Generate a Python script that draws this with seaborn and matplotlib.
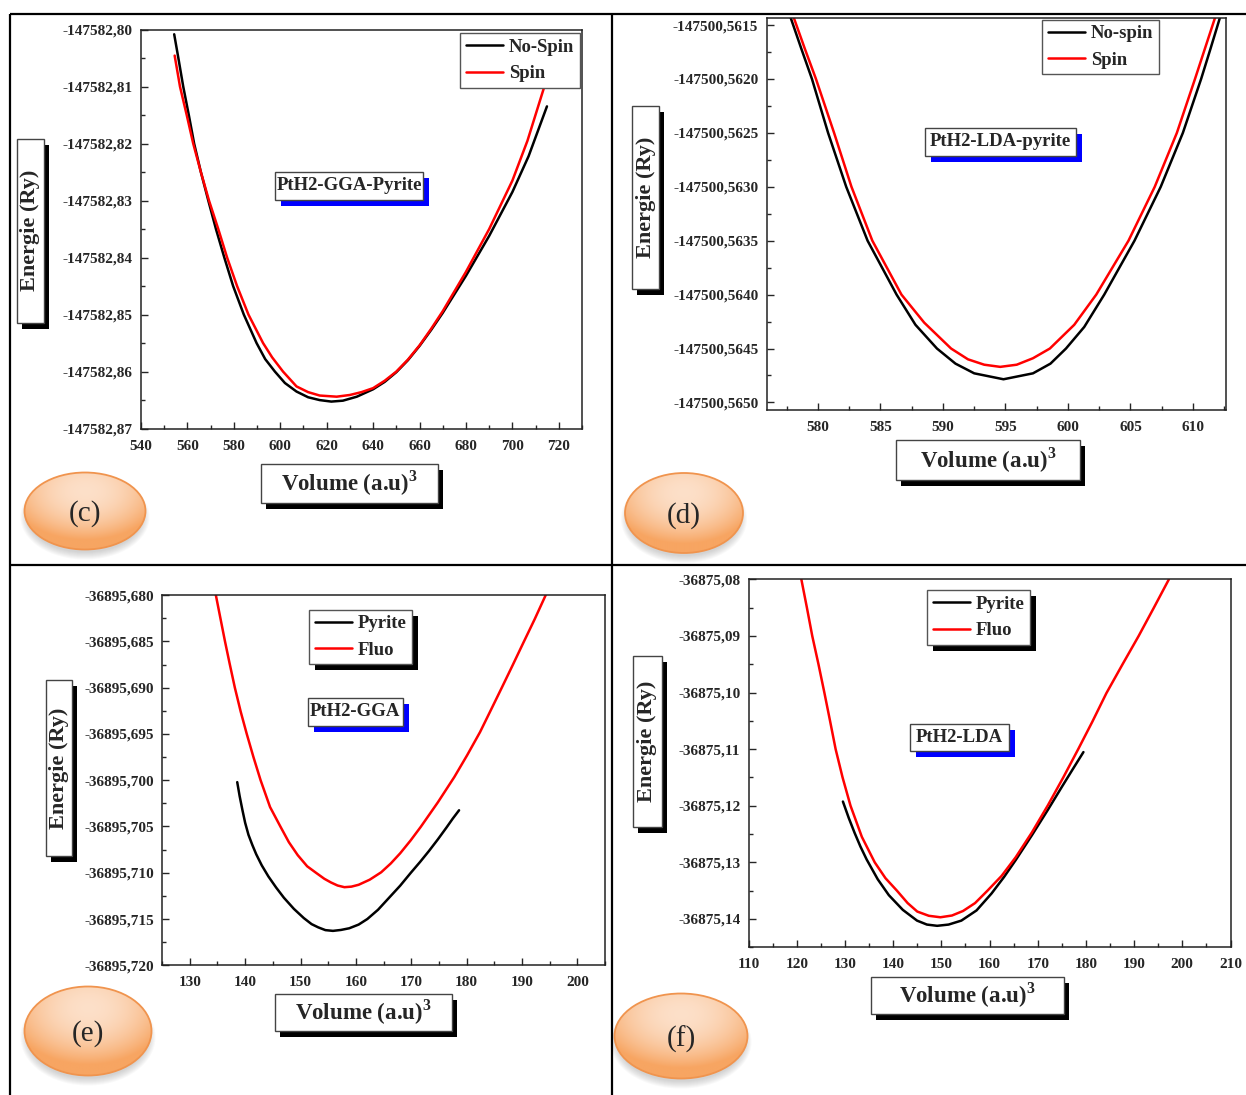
#E(V) curves of PtH2 - four panels (c) (d) (e) (f)
import numpy as np
import pandas as pd
import seaborn as sns
from matplotlib import pyplot as plt
from matplotlib import ticker
from matplotlib.lines import Line2D
from matplotlib.patches import Rectangle, Ellipse

#values (volume in (a.u)^3, energy in Ry)
#(c) GGA pyrite
c_nospin_V = [554.3, 556.1, 558.2, 560.7, 562.9, 565.8, 569.0, 572.3, 575.9, 579.7, 584.3, 589.8, 593.5, 597.7, 602.0,
              607.0, 612.0, 617.0, 622.0, 627.0, 633.0, 640.0, 645.0, 650.0, 655.0, 660.0, 665.0, 670.0, 680.0, 690.0,
              700.0, 707.0, 714.9]
c_nospin_E = [-147582.80082, -147582.805, -147582.81, -147582.8152, -147582.82, -147582.825, -147582.83, -147582.835,
              -147582.84, -147582.845, -147582.85, -147582.855, -147582.8578, -147582.86, -147582.8620, -147582.8635,
              -147582.8645, -147582.8650, -147582.86526, -147582.8651, -147582.8644, -147582.8631, -147582.8618,
              -147582.8601, -147582.8580, -147582.8555, -147582.8527, -147582.8497, -147582.8432, -147582.8362,
              -147582.8285, -147582.8222, -147582.81347]
c_spin_V = [554.5, 556.8, 559.7, 562.5, 565.8, 569.3, 573.3, 577.1, 581.4, 586.3, 592.6, 596.5, 601.2, 607.0, 612.0,
            617.0, 624.3, 630.0, 635.0, 640.0, 645.0, 650.0, 655.0, 660.0, 665.0, 670.0, 680.0, 690.0, 700.0, 706.5,
            712.7, 715.0]
c_spin_E = [-147582.80456, -147582.81, -147582.815, -147582.82, -147582.825, -147582.83, -147582.835, -147582.84,
            -147582.845, -147582.85, -147582.855, -147582.8575, -147582.86, -147582.8626, -147582.8636, -147582.8642,
            -147582.8644, -147582.8641, -147582.8636, -147582.8629, -147582.8616, -147582.8600, -147582.8579,
            -147582.8554, -147582.8525, -147582.8494, -147582.8425, -147582.8350, -147582.8265, -147582.8195,
            -147582.8114, -147582.8084]
c_xticks = [540, 560, 580, 600, 620, 640, 660, 680, 700, 720]
c_yticks = [-147582.80, -147582.81, -147582.82, -147582.83, -147582.84, -147582.85, -147582.86, -147582.87]

#(d) LDA pyrite
d_nospin_V = [577.81, 578.7, 579.52, 580.81, 582.26, 583.97, 586.29, 587.8, 589.52, 591.0, 592.5, 594.84, 597.2, 598.6,
              599.84, 601.3, 602.90, 605.32, 607.42, 609.19, 610.65, 611.4, 612.16]
d_nospin_E = [-147500.56143, -147500.56173, -147500.5620, -147500.5625, -147500.5630, -147500.5635, -147500.5640,
              -147500.56428, -147500.5645, -147500.56464, -147500.56473, -147500.564785, -147500.56473, -147500.56464,
              -147500.5645, -147500.56430, -147500.5640, -147500.5635, -147500.5630, -147500.5625, -147500.5620,
              -147500.56172, -147500.56143]
d_spin_V = [578.06, 578.95, 579.84, 581.29, 582.68, 584.35, 586.68, 588.5, 590.65, 592.0, 593.3, 594.58, 595.9, 597.2,
            598.55, 600.5, 602.26, 604.84, 606.94, 608.71, 610.16, 610.95, 611.77]
d_spin_E = [-147500.56143, -147500.56172, -147500.5620, -147500.5625, -147500.5630, -147500.5635, -147500.5640,
            -147500.56426, -147500.5645, -147500.56460, -147500.56465, -147500.56467, -147500.56465, -147500.56459,
            -147500.5645, -147500.56428, -147500.5640, -147500.5635, -147500.5630, -147500.5625, -147500.5620,
            -147500.56172, -147500.56143]
d_xticks = [580, 585, 590, 595, 600, 605, 610]
d_yticks = [-147500.5615, -147500.5620, -147500.5625, -147500.5630, -147500.5635, -147500.5640, -147500.5645, -147500.5650]

#(e) GGA pyrite / fluorite
e_pyr_V = [138.57, 139.0, 139.5, 140.0, 140.6, 141.3, 142.0, 143.0, 144.2, 145.6, 147.0, 148.8, 150.6, 152.0, 153.2,
           154.5, 155.86, 157.3, 158.8, 160.5, 162.07, 164.0, 166.0, 168.0, 169.93, 171.6, 173.2, 174.8, 176.36, 177.5,
           178.64]
e_pyr_E = [-36895.70021, -36895.7017, -36895.7032, -36895.7046, -36895.7059, -36895.7070, -36895.7080, -36895.7092,
           -36895.7104, -36895.7116, -36895.7127, -36895.7139, -36895.7149, -36895.71555, -36895.7159, -36895.7162,
           -36895.71628, -36895.71618, -36895.7160, -36895.7156, -36895.715, -36895.7140, -36895.7127, -36895.7114,
           -36895.710, -36895.70883, -36895.70765, -36895.7064, -36895.70512, -36895.70415, -36895.70325]
e_flu_V = [134.71, 135.5, 136.36, 137.2, 138.14, 139.2, 140.29, 141.5, 142.79, 144.5, 146.36, 147.9, 149.5, 151.2, 152.79,
           154.3, 155.5, 156.7, 157.93, 159.2, 160.5, 162.5, 164.57, 166.3, 168.0, 169.9, 171.71, 174.8, 177.79, 180.1,
           182.43, 184.4, 186.36, 188.3, 190.29, 192.3, 194.29]
e_flu_E = [-36895.680, -36895.6824, -36895.685, -36895.6874, -36895.690, -36895.6926, -36895.695, -36895.6975,
           -36895.700, -36895.7029, -36895.705, -36895.7067, -36895.7081, -36895.7093, -36895.7100, -36895.71065,
           -36895.71105, -36895.71138, -36895.71156, -36895.71150, -36895.71130, -36895.71075, -36895.70995,
           -36895.7090, -36895.7079, -36895.7065, -36895.70505, -36895.7024, -36895.69965, -36895.6973, -36895.6948,
           -36895.6924, -36895.6900, -36895.6876, -36895.6851, -36895.6826, -36895.680]
e_xticks = [130, 140, 150, 160, 170, 180, 190, 200]
e_yticks = [-36895.680, -36895.685, -36895.690, -36895.695, -36895.700, -36895.705, -36895.710, -36895.715, -36895.720]

#(f) LDA pyrite / fluorite
f_pyr_V = [129.57, 130.8, 132.0, 133.2, 134.50, 136.8, 139.1, 142.0, 144.95, 147.0, 149.13, 151.5, 154.15, 157.3,
           160.42, 163.0, 165.43, 168.8, 172.12, 175.05, 177.3, 179.48]
f_pyr_E = [-36875.11926, -36875.1222, -36875.1248, -36875.1272, -36875.1295, -36875.1330, -36875.1358, -36875.1384,
           -36875.1403, -36875.1410, -36875.14122, -36875.1410, -36875.1403, -36875.1385, -36875.1355, -36875.1326,
           -36875.1296, -36875.1252, -36875.1207, -36875.1166, -36875.1135, -36875.11052]
f_flu_V = [120.95, 122.1, 123.21, 124.5, 125.72, 126.9, 128.06, 129.5, 131.15, 133.5, 136.17, 138.4, 140.77, 143.0,
           145.0, 147.4, 149.80, 152.2, 154.5, 157.0, 159.58, 162.5, 165.43, 168.8, 172.12, 175.3, 178.4, 181.3,
           184.25, 187.6, 190.94, 194.1, 197.21]
f_flu_E = [-36875.08, -36875.085, -36875.09, -36875.095, -36875.10, -36875.105, -36875.11, -36875.115, -36875.12,
           -36875.1255, -36875.13, -36875.1328, -36875.135, -36875.1372, -36875.1387, -36875.13945, -36875.13971,
           -36875.1394, -36875.1386, -36875.1372, -36875.135, -36875.1324, -36875.1291, -36875.1247, -36875.1199,
           -36875.1150, -36875.1100, -36875.1052, -36875.1001, -36875.0950, -36875.0900, -36875.0850, -36875.08]
f_xticks = [110, 120, 130, 140, 150, 160, 170, 180, 190, 200, 210]
f_yticks = [-36875.08, -36875.09, -36875.10, -36875.11, -36875.12, -36875.13, -36875.14]

sns.set_style("ticks")
plt.rcParams['font.family'] = ['Liberation Serif', 'DejaVu Serif']
plt.rcParams['font.weight'] = 'bold'
plt.rcParams['mathtext.fontset'] = 'custom'
plt.rcParams['mathtext.rm'] = 'Liberation Serif'
plt.rcParams['mathtext.bf'] = 'Liberation Serif:bold'

W, H = 1246, 1095
fig = plt.figure(figsize=(W / 100, H / 100), dpi=100)

#overlay in pixel coords for the boxes, badges and table lines
ov = fig.add_axes([0, 0, 1, 1], zorder=-1)
ov.axis('off')


def shadow_box(box, text, shadow, size, rot=0, dx=5, dy=6):
    x0, y0, x1, y1 = box
    ov.add_patch(Rectangle((x0 + dx, y0 + dy), x1 - x0, y1 - y0, fc=shadow, ec='none', zorder=1))
    ov.add_patch(Rectangle((x0, y0), x1 - x0, y1 - y0, fc='white', ec='#444444', lw=1, zorder=2))
    ov.text((x0 + x1) / 2, (y0 + y1) / 2, text, fontsize=size, rotation=rot,
            ha='center', va='center', zorder=3)


def badge(cx, cy, w, h, tag):
    for k in range(8):
        ov.add_patch(Ellipse((cx, cy + 6), w - 6 + 2 * k, h - 6 + 2 * k, fc='#777777', ec='none', alpha=0.045, zorder=1))
    u, v = np.meshgrid(np.linspace(-1, 1, 80), np.linspace(-1, 1, 80))
    t = np.clip(0.55 * (u ** 2 + (v + 0.35) ** 2) + 0.35 * (v + 1) / 2, 0, 1)[..., None]
    light = np.array([253, 230, 212]) / 255
    dark = np.array([247, 165, 98]) / 255
    img = light * (1 - t) + dark * t
    im = ov.imshow(img, extent=(cx - w / 2, cx + w / 2, cy + h / 2, cy - h / 2), aspect='auto',
                   interpolation='bilinear', zorder=2)
    e = Ellipse((cx, cy), w, h, fc='none', ec='#f0944e', lw=1.3, zorder=3)
    ov.add_patch(e)
    im.set_clip_path(e)
    ov.text(cx, cy + 3, tag, fontsize=21, fontweight='normal', ha='center', va='center', zorder=4)


panels = [
    dict(pos=(141, 29.6, 582, 428.6), xlim=(540, 730), ylim=(-147582.87, -147582.80),
         xticks=c_xticks, yticks=c_yticks, dec=2,
         series=[('No-Spin', c_nospin_V, c_nospin_E), ('Spin', c_spin_V, c_spin_E)],
         leg=(460, 32.9), leg_shadow=False, title='PtH2-GGA-Pyrite', tbox=(275, 171.7, 423.3, 200),
         ybox=(17, 138.6, 43.5, 323), xbox=(261, 463.6, 437.7, 502.9), badge=(85, 511, 121, 77, '(c)')),
    dict(pos=(766.7, 17.9, 1225.5, 410), xlim=(575.9, 612.6), ylim=(-147500.56507, -147500.561434),
         xticks=d_xticks, yticks=d_yticks, dec=4,
         series=[('No-spin', d_nospin_V, d_nospin_E), ('Spin', d_spin_V, d_spin_E)],
         leg=(1042, 19.6), leg_shadow=False, title='PtH2-LDA-pyrite', tbox=(925, 127.5, 1075.8, 156.4),
         ybox=(632, 106.4, 659, 288.6), xbox=(896, 440, 1080, 479.6), badge=(684, 513, 118, 80, '(d)')),
    dict(pos=(162.1, 595.1, 605, 965.3), xlim=(125, 205), ylim=(-36895.720, -36895.680),
         xticks=e_xticks, yticks=e_yticks, dec=3,
         series=[('Pyrite', e_pyr_V, e_pyr_E), ('Fluo', e_flu_V, e_flu_E)],
         leg=(309, 609.5), leg_shadow=True, title='PtH2-GGA', tbox=(307.6, 698, 402.5, 725.5),
         ybox=(45.5, 680.4, 71.6, 855.5), xbox=(274.8, 994.3, 452, 1030.8), badge=(88, 1031, 127, 89, '(e)')),
    dict(pos=(748.6, 579.4, 1230.5, 947.2), xlim=(110, 210), ylim=(-36875.145, -36875.08),
         xticks=f_xticks, yticks=f_yticks, dec=2,
         series=[('Pyrite', f_pyr_V, f_pyr_E), ('Fluo', f_flu_V, f_flu_E)],
         leg=(927, 590), leg_shadow=True, title='PtH2-LDA', tbox=(910, 723.8, 1009.4, 751),
         ybox=(633, 655.9, 661.7, 827), xbox=(871, 977, 1063.7, 1013.8), badge=(681, 1036, 133, 85, '(f)')),
]

legends = []
for p in panels:
    left, top, right, bottom = p['pos']
    ax = fig.add_axes([left / W, 1 - bottom / H, (right - left) / W, (bottom - top) / H])
    ax.set_facecolor('none')
    names = [s[0] for s in p['series']]
    df = pd.concat([pd.DataFrame({'V': s[1], 'E': s[2], 'serie': s[0]}) for s in p['series']])
    sns.lineplot(data=df, x='V', y='E', hue='serie', hue_order=names,
                 palette=dict(zip(names, ['black', 'red'])), sort=False, estimator=None,
                 linewidth=1.8, legend=False, ax=ax)
    ax.set_xlim(*p['xlim'])
    ax.set_ylim(*p['ylim'])
    ax.set_xlabel('')
    ax.set_ylabel('')
    ax.xaxis.set_major_locator(ticker.FixedLocator(p['xticks']))
    ax.yaxis.set_major_locator(ticker.FixedLocator(p['yticks']))
    ax.xaxis.set_minor_locator(ticker.AutoMinorLocator(2))
    ax.yaxis.set_minor_locator(ticker.AutoMinorLocator(2))
    ax.xaxis.set_major_formatter(ticker.FuncFormatter(lambda v, pos: f"{v:.0f}"))
    ax.yaxis.set_major_formatter(ticker.FuncFormatter(lambda v, pos, d=p['dec']: f"{v:.{d}f}".replace('.', ',')))
    ax.tick_params(which='both', direction='in', top=False, right=False, width=1, labelsize=11)
    ax.tick_params(axis='x', pad=8)
    ax.tick_params(axis='y', pad=6)
    ax.tick_params(which='major', length=5)
    ax.tick_params(which='minor', length=3)
    for sp in ax.spines.values():
        sp.set_visible(True)
        sp.set_linewidth(1.1)
        sp.set_color('#222222')

    handles = [Line2D([], [], color=c, lw=1.8) for c in ['black', 'red']]
    leg = ax.legend(handles, names, loc='upper left', bbox_to_anchor=(p['leg'][0] / W, 1 - p['leg'][1] / H),
                    bbox_transform=fig.transFigure, borderaxespad=0, frameon=True, fancybox=False,
                    edgecolor='#555555', framealpha=1, prop=dict(weight='bold', size=13.5),
                    handlelength=2.0, handletextpad=0.3, labelspacing=0.5, borderpad=0.3)
    leg.get_frame().set_linewidth(1.0)
    legends.append((leg, p['leg_shadow']))

    shadow_box(p['tbox'], p['title'], 'blue', 13.5, dx=6, dy=6)
    shadow_box(p['ybox'], 'Energie (Ry)', 'black', 16, rot=90)
    shadow_box(p['xbox'], r'Volume (a.u)$^{\mathbf{3}}$', 'black', 16.5)
    badge(*p['badge'])

#table lines
for xs, ys in [([10, W], [14, 14]), ([10, W], [565, 565]), ([10, 10], [14, H]), ([612, 612], [14, H])]:
    ov.plot(xs, ys, color='black', lw=1.6, solid_capstyle='butt', zorder=5)

ov.set_xlim(0, W)
ov.set_ylim(H, 0)

#black shadow behind the legends of (e) and (f)
fig.canvas.draw()
inv = ov.transData.inverted()
for leg, has_shadow in legends:
    if has_shadow:
        bb = leg.get_window_extent()
        (x0, y1), (x1, y0) = inv.transform([[bb.x0, bb.y0], [bb.x1, bb.y1]])
        ov.add_patch(Rectangle((x0 + 6, y0 + 6), x1 - x0, y1 - y0, fc='black', ec='none', zorder=1))

fig.savefig('out.png', dpi=100)
